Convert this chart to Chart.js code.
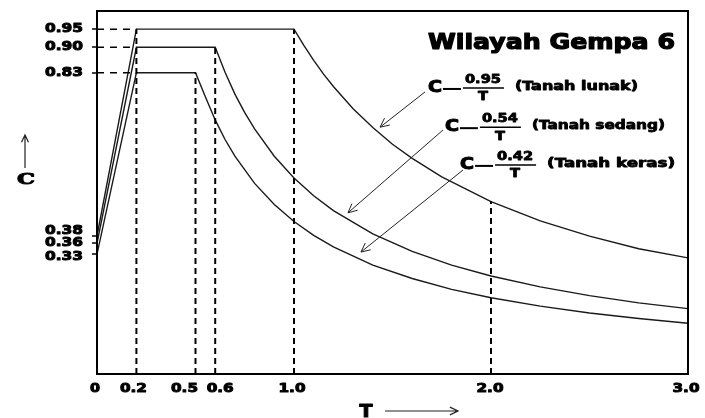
<!DOCTYPE html>
<html>
<head>
<meta charset="utf-8">
<script src="https://cdn.jsdelivr.net/npm/chart.js@4"></script>
<style>
  html, body { margin: 0; padding: 0; background: #fff; }
  canvas { display: block; }
</style>
</head>
<body>
<canvas id="spektrum" width="705" height="418"></canvas>
<script>
/* ------------ Datos ------------ */
// Tanah lunak: C = 0.95 / T
const tLunak = [0, 0.2, 1.0, 1.05, 1.1, 1.15, 1.2, 1.3, 1.4, 1.5, 1.6, 1.75, 2.0, 2.25, 2.5, 2.75, 3.0];
const cLunak = [0.38, 0.95, 0.95, 0.905, 0.864, 0.826, 0.792, 0.731, 0.679, 0.633, 0.594, 0.543, 0.475, 0.422, 0.38, 0.345, 0.32];

// Tanah sedang: C = 0.54 / T
const tSedang = [0, 0.2, 0.6, 0.65, 0.7, 0.75, 0.8, 0.9, 1.0, 1.1, 1.2, 1.4, 1.6, 1.8, 2.0, 2.25, 2.5, 2.75, 3.0];
const cSedang = [0.36, 0.90, 0.90, 0.831, 0.771, 0.72, 0.675, 0.60, 0.54, 0.491, 0.45, 0.386, 0.338, 0.30, 0.27, 0.24, 0.216, 0.196, 0.18];

// Tanah keras: C = 0.42 / T
const tKeras = [0, 0.2, 0.5, 0.55, 0.6, 0.65, 0.7, 0.8, 0.9, 1.0, 1.1, 1.2, 1.4, 1.6, 1.8, 2.0, 2.25, 2.5, 2.75, 3.0];
const cKeras = [0.33, 0.83, 0.83, 0.764, 0.70, 0.646, 0.60, 0.525, 0.467, 0.42, 0.382, 0.35, 0.30, 0.263, 0.233, 0.21, 0.187, 0.168, 0.153, 0.14];

// ejes
const yTicks = [0.95, 0.90, 0.83, 0.38, 0.36, 0.33];
const yTickLabels = ["0.95", "0.90", "0.83", "0.38", "0.36", "0.33"];
const xTicks = [0, 0.2, 0.5, 0.6, 1.0, 2.0, 3.0];
const xTickLabels = ["0", "0.2", "0.5", "0.6", "1.0", "2.0", "3.0"];

// líneas guía punteadas
const guiaT = [0.2, 0.5, 0.6, 1.0, 2.0];
const guiaC = [0.95, 0.83, 0.90, 0.95, 0.475];
const nivelesC = [0.95, 0.90, 0.83];

// textos
const titulo = "Wilayah Gempa 6";
const numeradores = ["0.95", "0.54", "0.42"];
const tipos = ["(Tanah lunak)", "(Tanah sedang)", "(Tanah keras)"];

const pares = (xs, ys) => xs.map((x, i) => ({ x, y: ys[i] }));

/* ------------ Datasets ------------ */
const curva = (xs, ys) => ({
  data: pares(xs, ys),
  borderColor: "#1a1a1a",
  borderWidth: 1.4,
  pointRadius: 0,
  tension: 0
});

const guias = [];
guiaT.forEach((t, i) => {
  guias.push({
    data: [{ x: t, y: 0 }, { x: t, y: guiaC[i] }],
    borderColor: "#000", borderWidth: 2, borderDash: [6, 4], pointRadius: 0
  });
});
nivelesC.forEach(c => {
  guias.push({
    data: [{ x: 0, y: c }, { x: 0.2, y: c }],
    borderColor: "#000", borderWidth: 1.5, borderDash: [7, 6], pointRadius: 0
  });
});

/* ------------ Helpers de dibujo ------------ */
// texto ajustado a un ancho dado; "grueso" engorda el trazo (el original es muy negro)
function texto(ctx, s, x, y, ancho, font, align, grueso) {
  ctx.save();
  ctx.font = font;
  ctx.textBaseline = "middle";
  ctx.textAlign = "left";
  const m = ctx.measureText(s).width;
  const sx = ancho / m;
  let x0 = x;
  if (align === "center") x0 = x - ancho / 2;
  if (align === "right") x0 = x - ancho;
  ctx.translate(x0, y);
  ctx.scale(sx, 1);
  ctx.fillText(s, 0, 0);
  if (grueso) {
    ctx.lineWidth = grueso;
    ctx.lineJoin = "round";
    ctx.strokeText(s, 0, 0);
  }
  ctx.restore();
}

function flecha(ctx, x1, y1, x2, y2, tam, lw) {
  const ang = Math.atan2(y2 - y1, x2 - x1);
  ctx.save();
  ctx.lineWidth = lw;
  ctx.strokeStyle = "#222";
  ctx.beginPath();
  ctx.moveTo(x1, y1);
  ctx.lineTo(x2, y2);
  ctx.moveTo(x2 - tam * Math.cos(ang - 0.45), y2 - tam * Math.sin(ang - 0.45));
  ctx.lineTo(x2, y2);
  ctx.lineTo(x2 - tam * Math.cos(ang + 0.45), y2 - tam * Math.sin(ang + 0.45));
  ctx.stroke();
  ctx.restore();
}

/* ------------ Plugin: marco, ticks, textos ------------ */
const decoracion = {
  id: "decoracion",
  afterDatasetsDraw(chart) {
    const { ctx, chartArea: a, scales: { x, y } } = chart;
    ctx.save();
    ctx.fillStyle = "#000";
    ctx.strokeStyle = "#000";

    // marco
    ctx.lineWidth = 2;
    ctx.strokeRect(a.left, a.top, a.right - a.left, a.bottom - a.top);

    // ticks eje Y
    const dy = [0, 0, 0, -5, 0, 3];
    ctx.lineWidth = 1.5;
    yTicks.forEach((v, i) => {
      const py = Math.round(y.getPixelForValue(v));
      ctx.beginPath();
      ctx.moveTo(a.left - 5, py);
      ctx.lineTo(a.left, py);
      ctx.stroke();
      texto(ctx, yTickLabels[i], a.left - 14, py + dy[i], 38, "bold 13px 'DejaVu Sans'", "right", 1);
    });

    // etiquetas eje X
    const dx = [-2, -3, -11, 5, -2, -1, -2];
    xTicks.forEach((v, i) => {
      const px = x.getPixelForValue(v);
      const w = xTickLabels[i].length === 1 ? 10 : 27;
      texto(ctx, xTickLabels[i], px + dx[i], a.bottom + 15, w, "bold 13px 'DejaVu Sans'", "center", 1);
    });

    // título de ejes
    flecha(ctx, 25, 168, 25, 135, 8, 1.2);
    texto(ctx, "C", 26, 180, 18, "bold 15px 'DejaVu Serif'", "center", 1);
    texto(ctx, "T", 366, 413, 13, "bold 17px 'DejaVu Sans'", "center", 1);
    flecha(ctx, 385, 411, 458, 411, 9, 1.2);

    // título
    const px = v => x.getPixelForValue(v);
    const py = v => y.getPixelForValue(v);
    texto(ctx, titulo, px(1.68), py(0.91), 247, "bold 21px 'DejaVu Sans'", "left", 1.2);

    // fórmulas C = n / T
    const filas = [
      { t: 1.68, c: 0.788, fin: 638 },
      { t: 1.766, c: 0.68, fin: 665 },
      { t: 1.843, c: 0.576, fin: 675 }
    ];
    filas.forEach((f, i) => {
      const x0 = px(f.t), y0 = py(f.c);
      texto(ctx, "C", x0, y0, 14, "bold 15px 'DejaVu Sans'", "left", 1);
      ctx.lineWidth = 2;
      ctx.beginPath();
      ctx.moveTo(x0 + 15, y0 + 1);
      ctx.lineTo(x0 + 33, y0 + 1);
      ctx.stroke();
      // fracción
      ctx.lineWidth = 1.5;
      ctx.beginPath();
      ctx.moveTo(x0 + 35, y0);
      ctx.lineTo(x0 + 76, y0);
      ctx.stroke();
      texto(ctx, numeradores[i], x0 + 55, y0 - 8, 36, "bold 12px 'DejaVu Sans'", "center", 0.8);
      texto(ctx, "T", x0 + 55, y0 + 9, 10, "bold 13px 'DejaVu Sans'", "center", 0.8);
      texto(ctx, tipos[i], x0 + 87, y0 - 1, f.fin - (x0 + 87), "bold 12px 'DejaVu Sans'", "left", 0.8);
    });

    // flechas hacia las curvas
    const flechas = [
      [1.665, 0.777, 1.437, 0.68],
      [1.756, 0.672, 1.274, 0.444],
      [1.858, 0.562, 1.34, 0.336]
    ];
    flechas.forEach(f => flecha(ctx, px(f[0]), py(f[1]), px(f[2]), py(f[3]), 10, 1));

    ctx.restore();
  }
};

/* ------------ Gráfico ------------ */
new Chart(document.getElementById("spektrum"), {
  type: "line",
  data: {
    datasets: [
      ...guias,
      curva(tLunak, cLunak),
      curva(tSedang, cSedang),
      curva(tKeras, cKeras)
    ]
  },
  options: {
    responsive: false,
    animation: false,
    layout: { padding: { left: 97, right: 17, top: 11, bottom: 44 } },
    plugins: { legend: { display: false }, tooltip: { enabled: false } },
    scales: {
      x: { type: "linear", min: 0, max: 3, display: false },
      y: { min: 0, max: 1, display: false }
    }
  },
  plugins: [decoracion]
});
</script>
</body>
</html>
